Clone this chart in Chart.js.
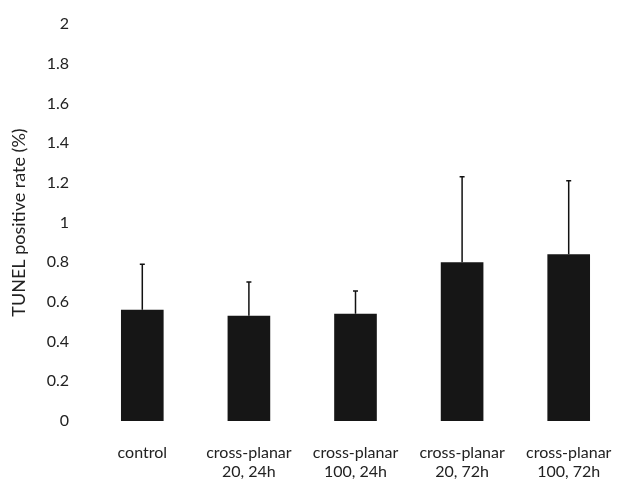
<!DOCTYPE html>
<html>
<head>
<meta charset="utf-8">
<script src="https://cdn.jsdelivr.net/npm/chart.js@4/dist/chart.umd.min.js"></script>
<style>
  html, body { margin: 0; padding: 0; background: #fff; }
  #wrap { width: 629px; height: 480px; }
</style>
</head>
<body>
<div id="wrap"><canvas id="tunelChart" width="629" height="480"></canvas></div>
<script>
const groups = [
    ["control"],
    ["cross-planar", "20, 24h"],
    ["cross-planar", "100, 24h"],
    ["cross-planar", "20, 72h"],
    ["cross-planar", "100, 72h"]
];
const tunelRate = [0.56, 0.53, 0.54, 0.80, 0.84];
const tunelSD = [0.23, 0.17, 0.115, 0.43, 0.37];

// upward-only error bars with a small cap
const errorBars = {
    id: "errorBars",
    afterDatasetsDraw(chart) {
        const ctx = chart.ctx;
        const y = chart.scales.y;
        const meta = chart.getDatasetMeta(0);
        ctx.save();
        ctx.strokeStyle = "#111";
        ctx.lineWidth = 1.5;
        meta.data.forEach((bar, i) => {
            const top = y.getPixelForValue(tunelRate[i] + tunelSD[i]);
            ctx.beginPath();
            ctx.moveTo(bar.x, bar.y);
            ctx.lineTo(bar.x, top);
            ctx.moveTo(bar.x - 2.5, top);
            ctx.lineTo(bar.x + 2.5, top);
            ctx.stroke();
        });
        ctx.restore();
    }
};

const ctx = document.getElementById("tunelChart").getContext("2d");
new Chart(ctx, {
    type: "bar",
    data: {
        labels: groups,
        datasets: [{
            data: tunelRate,
            backgroundColor: "#161616",
            barPercentage: 0.4,
            categoryPercentage: 1.0
        }]
    },
    options: {
        responsive: false,
        animation: false,
        layout: { padding: { top: 24, right: 7, bottom: 0, left: 0 } },
        plugins: {
            legend: { display: false },
            tooltip: { enabled: false }
        },
        scales: {
            x: {
                grid: { display: false, drawTicks: false },
                border: { display: false },
                ticks: {
                    color: "#222",
                    font: { family: "Lato", size: 16, lineHeight: 1.15 },
                    maxRotation: 0,
                    padding: 23
                },
                afterFit: s => { s.height = 59; s.paddingLeft = 0; s.paddingRight = 0; }
            },
            y: {
                min: 0,
                max: 2,
                grid: { display: false, drawTicks: false },
                border: { display: false },
                ticks: {
                    stepSize: 0.2,
                    color: "#222",
                    font: { family: "Lato", size: 16 },
                    padding: 20,
                    callback: v => String(+v.toFixed(1))
                },
                title: {
                    display: true,
                    text: "TUNEL positive rate (%)",
                    color: "#222",
                    font: { family: "Lato", size: 18 },
                    padding: { top: 8, bottom: 0 }
                },
                afterFit: s => { s.width = 89; s.paddingTop = 0; s.paddingBottom = 0; }
            }
        }
    },
    plugins: [errorBars]
});
</script>
</body>
</html>
